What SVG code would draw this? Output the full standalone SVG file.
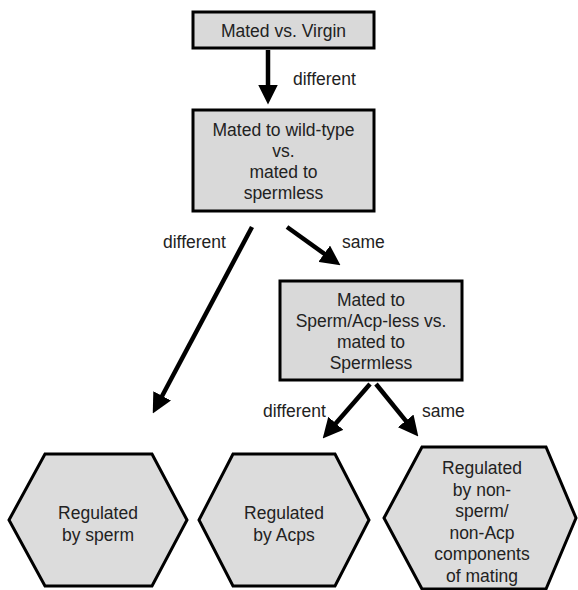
<svg xmlns="http://www.w3.org/2000/svg" width="578" height="590" viewBox="0 0 578 590">
<style>
text{font-family:"Liberation Sans",Arial,sans-serif;font-size:17.5px;fill:#222;text-anchor:middle}
.box{fill:#d9d9d9;stroke:#000;stroke-width:3}
.hex{fill:#dcdcdc;stroke:#000;stroke-width:3;stroke-linejoin:miter}
.conn line{stroke:#000;stroke-width:4.5;marker-end:url(#ah)}
.lbl{text-anchor:start}
</style>
<defs>
<marker id="ah" markerUnits="userSpaceOnUse" markerWidth="20" markerHeight="20" refX="9" refY="9.5" orient="auto" viewBox="0 0 19 19">
<path d="M0,0 L19,9.5 L0,19 z" fill="#000"/>
</marker>
</defs>
<rect width="578" height="590" fill="#fff"/>
<g id="n1">
<rect class="box" x="193" y="12" width="181" height="36"/>
<text x="283.5" y="36.5">Mated vs. Virgin</text>
</g>
<g id="n2">
<rect class="box" x="193" y="110" width="181" height="101"/>
<text x="283.5" y="136">Mated to wild-type</text>
<text x="283.5" y="157">vs.</text>
<text x="283.5" y="178">mated to</text>
<text x="283.5" y="199">spermless</text>
</g>
<g id="n3">
<rect class="box" x="280" y="281" width="182" height="99"/>
<text x="371" y="306">Mated to</text>
<text x="371" y="327">Sperm/Acp-less vs.</text>
<text x="371" y="348">mated to</text>
<text x="371" y="369">Spermless</text>
</g>
<g id="h1">
<polygon class="hex" points="9,520 45,454 152,454 187,520 152,586 45,586"/>
<text x="98" y="519">Regulated</text>
<text x="98" y="540.5">by sperm</text>
</g>
<g id="h2">
<polygon class="hex" points="199,520 233,454 335,454 369,520 335,586 233,586"/>
<text x="284" y="519">Regulated</text>
<text x="284" y="540.5">by Acps</text>
</g>
<g id="h3">
<polygon class="hex" points="384,518 422,447 546,447 576,518 546,589 422,589"/>
<text x="482" y="474">Regulated</text>
<text x="482" y="495.5">by non-</text>
<text x="482" y="517">sperm/</text>
<text x="482" y="538.5">non-Acp</text>
<text x="482" y="560">components</text>
<text x="482" y="581.5">of mating</text>
</g>
<g id="connectors" class="conn">
<line x1="268" y1="50" x2="268" y2="94"/>
<line x1="252" y1="227" x2="157.7" y2="404.2"/>
<line x1="287" y1="227" x2="331.9" y2="259.2"/>
<line x1="370" y1="384" x2="329.6" y2="430.5"/>
<line x1="376" y1="384" x2="411.7" y2="428.2"/>
</g>
<g id="labels">
<text class="lbl" x="293" y="85">different</text>
<text class="lbl" x="163" y="248">different</text>
<text class="lbl" x="342" y="248">same</text>
<text class="lbl" x="263" y="417">different</text>
<text class="lbl" x="422" y="417">same</text>
</g>
</svg>
